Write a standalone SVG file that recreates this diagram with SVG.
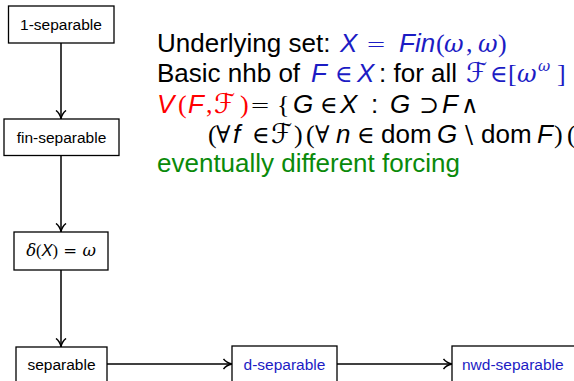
<svg xmlns="http://www.w3.org/2000/svg" width="574" height="381" viewBox="0 0 574 381">
<style>
.box{fill:#fff;stroke:#000;stroke-width:1.3}
.bt{font-family:"Liberation Sans",Arial,sans-serif;font-size:15.5px;fill:#000;text-anchor:middle}
.blue{fill:#1c1cc4}
.conn{stroke:#000;stroke-width:1.5;fill:none;marker-end:url(#arr)}
.t{font-family:"Liberation Sans",Arial,sans-serif;font-size:26px;fill:#000}
.it{font-style:italic}
.m{font-family:"DejaVu Serif","Liberation Serif",serif;font-size:24px}
.eq{font-family:"DejaVu Sans","Liberation Sans",sans-serif;font-size:24px;font-weight:300}
.mi{font-family:"DejaVu Serif","Liberation Serif",serif;font-size:24px;font-style:italic}
.cal{font-family:"DejaVu Serif","DejaVu Sans",serif;font-size:27px;font-style:normal}
.sup{font-family:"DejaVu Serif","Liberation Serif",serif;font-size:15px;font-style:italic}
.p{font-family:"Liberation Serif",serif}
.B{fill:#1c1cc4}
.R{fill:#ff0000}
.G{fill:#0a8a0a}
</style>
<defs>
<marker id="arr" viewBox="0 0 10 12" refX="9.5" refY="6" markerWidth="10" markerHeight="12" markerUnits="userSpaceOnUse" orient="auto">
<path d="M1,1 Q4,5 9.5,6 Q4,7 1,11" fill="none" stroke="#000" stroke-width="1.5"/>
</marker>
</defs>
<g id="connectors">
<line class="conn" x1="61" y1="43" x2="61" y2="119"/>
<line class="conn" x1="61" y1="155.5" x2="61" y2="232"/>
<line class="conn" x1="61" y1="270" x2="61" y2="347"/>
<line class="conn" x1="107" y1="364" x2="232" y2="364"/>
<line class="conn" x1="337" y1="364" x2="452" y2="364"/>
</g>
<g id="n1"><rect class="box" x="8.5" y="6" width="105.5" height="37"/><text class="bt" x="61" y="29.5">1-separable</text></g>
<g id="n2"><rect class="box" x="4" y="119" width="115" height="36.5"/><text class="bt" x="61.5" y="142.5">fin-separable</text></g>
<g id="n3"><rect class="box" x="14" y="232" width="94" height="38"/><text class="bt" x="61" y="256" style="font-size:16.5px"><tspan font-family="DejaVu Serif,serif" font-style="italic">δ</tspan><tspan font-family="Liberation Serif,serif">(</tspan><tspan font-style="italic">X</tspan><tspan font-family="Liberation Serif,serif">)</tspan><tspan font-family="DejaVu Serif,serif"> = </tspan><tspan font-family="DejaVu Serif,serif" font-style="italic">ω</tspan></text></g>
<g id="n4"><rect class="box" x="16" y="347" width="91" height="40"/><text class="bt" x="61.5" y="370">separable</text></g>
<g id="n5"><rect class="box" x="232" y="346" width="105" height="40"/><text class="bt blue" x="284.5" y="370">d-separable</text></g>
<g id="n6"><rect class="box" x="452" y="346" width="130" height="40"/><text class="bt blue" x="462" y="370" style="text-anchor:start">nwd-separable</text></g>
<g id="text">
<text class="t" y="52"><tspan x="157">Underlying set:</tspan><tspan class="it B" x="340">X</tspan><tspan class="eq B" x="366">=</tspan><tspan class="it B" x="399">Fin</tspan><tspan class="p B" x="436">(</tspan><tspan class="mi B" x="444">ω</tspan><tspan class="p B" x="466">,</tspan><tspan class="mi B" x="478">ω</tspan><tspan class="p B" x="498">)</tspan></text>
<text class="t" y="82"><tspan x="157">Basic nhb of</tspan><tspan class="it B" x="311">F</tspan><tspan class="m B" x="335">∈</tspan><tspan class="it B" x="357">X</tspan><tspan x="379">: for all</tspan><tspan class="cal B" x="466">ℱ</tspan><tspan class="m B" x="490">∈</tspan><tspan class="p B" x="508">[</tspan><tspan class="mi B" x="517">ω</tspan><tspan class="sup B" x="538" y="71">ω</tspan><tspan class="p B" x="557" y="82">]</tspan></text>
<text class="t" y="113"><tspan class="it R" x="157">V</tspan><tspan class="p R" x="178">(</tspan><tspan class="it R" x="188">F</tspan><tspan class="p R" x="206">,</tspan><tspan class="cal R" x="214">ℱ</tspan><tspan class="p R" x="240">)</tspan><tspan class="eq" x="250">=</tspan><tspan class="p" x="277">{</tspan><tspan class="it" x="293">G</tspan><tspan class="m" x="320">∈</tspan><tspan class="it" x="340">X</tspan><tspan x="371">:</tspan><tspan class="it" x="390">G</tspan><tspan class="m" x="419">⊃</tspan><tspan class="it" x="442">F</tspan><tspan class="m" x="461">∧</tspan></text>
<text class="t" y="143"><tspan class="p" x="208">(</tspan><tspan class="m" x="216">∀</tspan><tspan class="it" x="233">f</tspan><tspan class="m" x="252">∈</tspan><tspan class="cal" x="271">ℱ</tspan><tspan class="p" x="294">)</tspan><tspan class="p" x="306">(</tspan><tspan class="m" x="315">∀</tspan><tspan class="it" x="336">n</tspan><tspan class="m" x="357">∈</tspan><tspan x="381">dom</tspan><tspan class="it" x="437">G</tspan><tspan class="m" x="465">\</tspan><tspan x="481">dom</tspan><tspan class="it" x="537">F</tspan><tspan class="p" x="554">)</tspan><tspan class="p" x="567">(</tspan></text>
<text class="t G" x="157" y="172">eventually different forcing</text>
</g>
</svg>
